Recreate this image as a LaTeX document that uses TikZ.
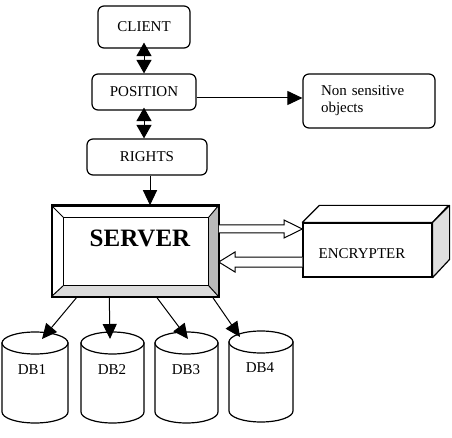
\documentclass[tikz,border=0pt]{standalone}
\usepackage{fontspec}
\setmainfont{Liberation Serif}
\usetikzlibrary{arrows.meta,calc}
\begin{document}
\begin{tikzpicture}[x=1pt,y=-1pt,
  txt/.style={font=\fontsize{15}{17}\selectfont},
  rbox/.style={draw,line width=1.2pt,rounded corners=6pt,inner sep=0pt,txt},
  arr/.style={line width=1pt,-{Triangle[width=14pt,length=15pt]}},
  darr/.style={line width=1pt,{Triangle[width=15pt,length=13.5pt]}-{Triangle[width=15pt,length=13.5pt]}},
  hollow/.style={draw,line width=1pt,fill=white,line join=miter},
  cyl/.style={draw,line width=1.2pt,fill=white}]
\useasboundingbox (0,0) rectangle (452,438);
% top boxes
\node[rbox,minimum width=92pt,minimum height=42pt] (client) at (144,27) {CLIENT};
\node[rbox,minimum width=104pt,minimum height=36pt] (position) at (144,92) {POSITION};
\node[rbox,minimum width=120pt,minimum height=36pt] (rights) at (147,157) {RIGHTS};
\node[rbox,minimum width=132pt,minimum height=54pt,text width=96pt,inner xsep=18pt,align=left] (nonsens) at (369,101) {Non sensitive\\objects};
% server
\node[draw,line width=1.5pt,fill=white,minimum width=166pt,minimum height=90pt,inner sep=0pt] (server) at (135,251) {};
\fill[gray!55] (server.north east) -- (server.south east) -- ++(-10,-11) -- ++(0,-67) -- cycle;
\fill[gray!28] (server.south west) -- (server.south east) -- ++(-10,-11) -- ++(-144,0) -- cycle;
\draw[line width=1.2pt] ($(server.north west)+(12,12)$) rectangle ($(server.south east)+(-10,-11)$);
\draw[line width=1pt] (server.north west) -- ++(12,12)
  (server.north east) -- ++(-10,12)
  (server.south west) -- ++(12,-11)
  (server.south east) -- ++(-10,-11);
\draw[line width=1.5pt] (server.north west) rectangle (server.south east);
\node[font=\fontsize{25}{30}\selectfont\bfseries] (servertxt) at (140,238) {SERVER};
% encrypter
\node[draw,line width=1.2pt,fill=white,minimum width=129pt,minimum height=54pt,inner sep=0pt] (enc) at (367.5,250) {};
\draw[line width=1.2pt,fill=white,line join=round] (enc.north west) -- ++(17,-17) -- ++(129,0) -- (enc.north east) -- cycle;
\draw[line width=1.2pt,fill=gray!25,line join=round] (enc.north east) -- ++(17,-17) -- ++(0,54) -- (enc.south east) -- cycle;
\node[txt] (enctxt) at (362,254) {ENCRYPTER};
% hollow arrows
\draw[hollow] (server.east |- 0,225) -- (284,225) -- (284,220) -- (enc.west |- 0,229) -- (284,238) -- (284,233) -- (server.east |- 0,233);
\draw[hollow] (enc.west |- 0,257) -- (235,257) -- (235,252) -- (server.east |- 0,262) -- (235,272) -- (235,267) -- (enc.west |- 0,267);
% connectors top
\draw[darr] ([yshift=6pt]client.south) -- (position.north);
\draw[darr] ([yshift=3pt]position.south) -- ([xshift=-3pt]rights.north);
\draw[arr] ([xshift=3pt]rights.south) -- (server.north -| 150,0);
\draw[arr] (position.east |- 0,98) -- (nonsens.west |- 0,98);
% databases
\foreach \a/\b/\yt [count=\i] in {2/68/343, 81/144/343, 155/218/343, 229/293/342}{
  \pgfmathsetmacro{\rx}{(\b-\a)/2}
  \pgfmathsetmacro{\cx}{(\b+\a)/2}
  \draw[cyl] (\a,\yt) -- (\a,\yt+69) arc[start angle=180,end angle=360,x radius=\rx pt,y radius=11pt] -- (\b,\yt) -- cycle;
  \draw[cyl] (\cx,\yt) ellipse[x radius=\rx pt,y radius=11pt];
}
\node[txt] (db1) at (32,370) {DB1};
\node[txt] (db2) at (112,370) {DB2};
\node[txt] (db3) at (186,370) {DB3};
\node[txt] (db4) at (260,368) {DB4};
\coordinate (t1) at (42,339);
\coordinate (t2) at (110,339);
\coordinate (t3) at (188,339);
\coordinate (t4) at (240,337);
\draw[arr] ([xshift=26pt]server.south west) -- (t1);
\draw[arr] ([xshift=58pt]server.south west) -- (t2);
\draw[arr] ([xshift=105pt]server.south west) -- (t3);
\draw[arr] ([xshift=161pt]server.south west) -- (t4);
\end{tikzpicture}
\end{document}
